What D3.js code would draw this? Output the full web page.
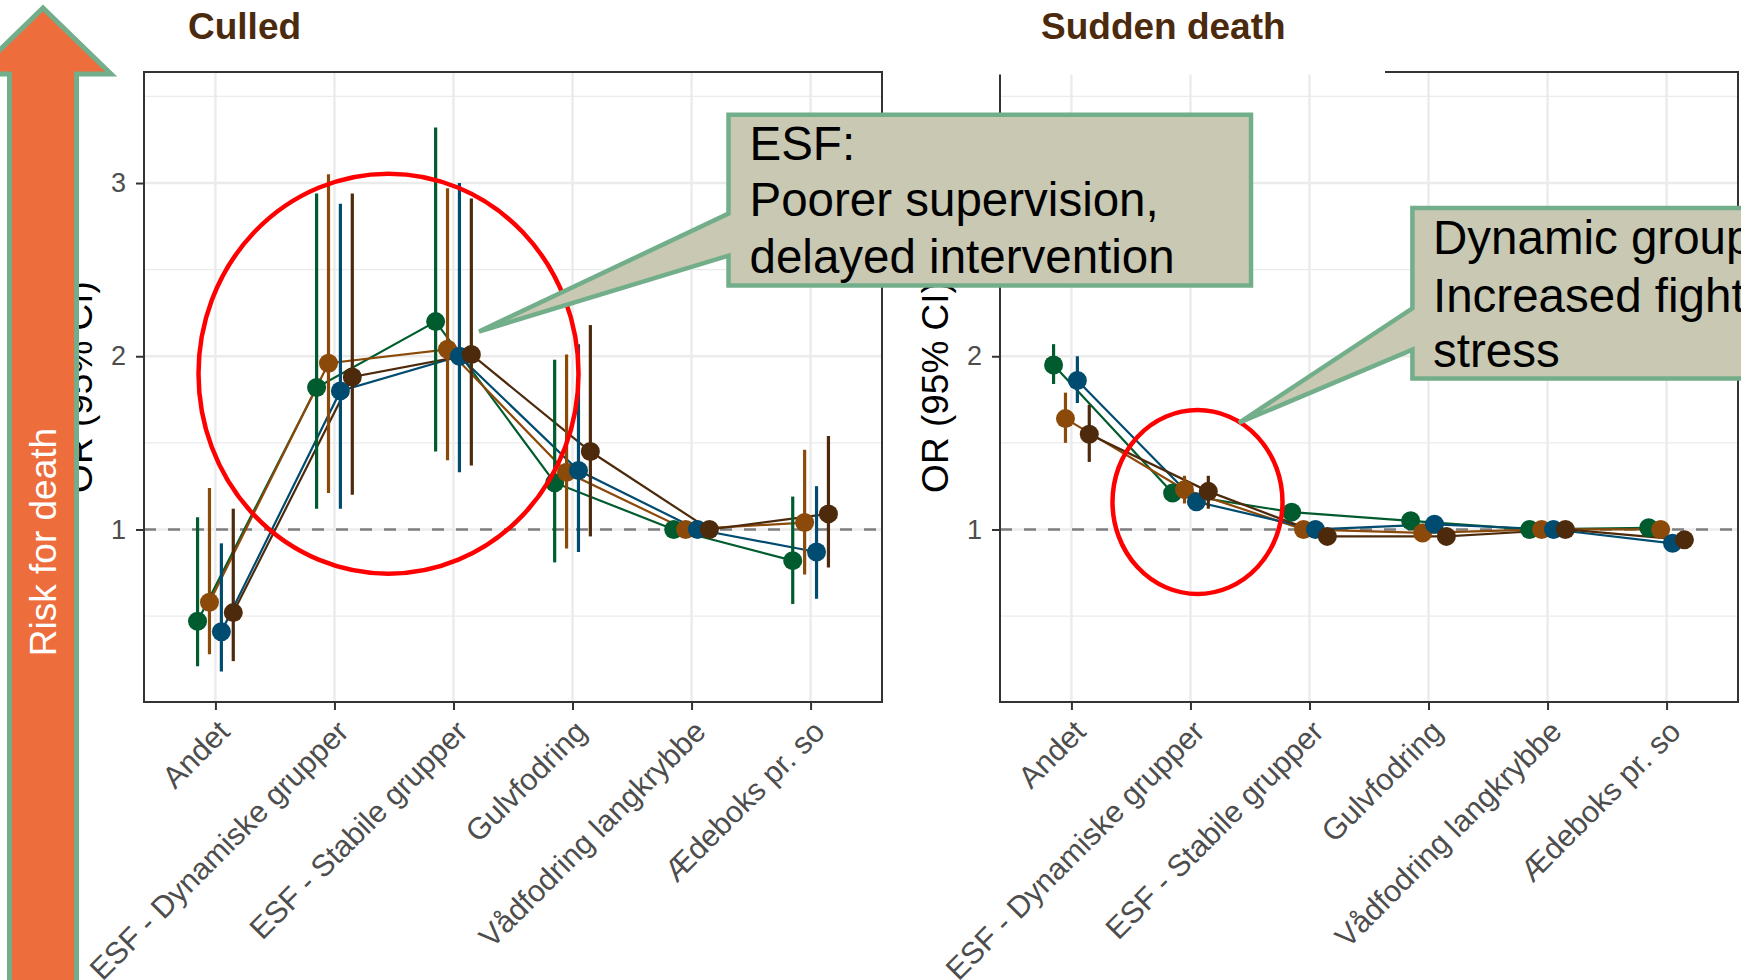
<!DOCTYPE html>
<html>
<head>
<meta charset="utf-8">
<script src="https://cdn.jsdelivr.net/npm/d3@7"></script>
<style>
  html, body { margin: 0; padding: 0; background: #ffffff; }
  svg { display: block; font-family: "Liberation Sans", Arial, Helvetica, sans-serif; }
</style>
</head>
<body>
<svg id="chart" width="1741" height="980"></svg>
<script>
// ---- data ---------------------------------------------------------------
const categories = [
  "Andet",
  "ESF - Dynamiske grupper",
  "ESF - Stabile grupper",
  "Gulvfodring",
  "Vådfodring langkrybbe",
  "Ædeboks pr. so"
];
const seriesNames  = ["Serie 1", "Serie 2", "Serie 3", "Serie 4"];
const seriesColors = ["#005c2e", "#8c4a0a", "#004b70", "#4d2a0c"];
const yTicks = [1, 2, 3];
const yMinorGrid = [0.5, 1.5, 2.5, 3.5];

// Culled: odds ratio with lower / upper 95% limits, one row per series
const culledOR = [
  [0.47, 1.82, 2.20, 1.27, 1.00, 0.82],
  [0.58, 1.96, 2.04, 1.33, 1.00, 1.04],
  [0.41, 1.80, 2.00, 1.34, 1.00, 0.87],
  [0.52, 1.88, 2.01, 1.45, 1.00, 1.09]
];
const culledLow = [
  [0.21, 1.12, 1.45, 0.81, 1.00, 0.57],
  [0.28, 1.21, 1.40, 0.89, 1.00, 0.74],
  [0.18, 1.12, 1.33, 0.87, 1.00, 0.60],
  [0.24, 1.20, 1.37, 0.96, 1.00, 0.78]
];
const culledHigh = [
  [1.07, 2.94, 3.32, 1.98, 1.00, 1.19],
  [1.24, 3.05, 2.97, 2.01, 1.00, 1.46],
  [0.92, 2.88, 3.00, 2.07, 1.00, 1.25],
  [1.12, 2.94, 2.91, 2.18, 1.00, 1.54]
];

// Sudden death: odds ratio with lower / upper 95% limits, one row per series
const suddenOR = [
  [1.95, 1.21, 1.10, 1.05, 1.00, 1.01],
  [1.64, 1.23, 1.00, 0.98, 1.00, 1.00],
  [1.86, 1.16, 1.00, 1.03, 1.00, 0.92],
  [1.55, 1.22, 0.96, 0.96, 1.00, 0.94]
];
const suddenLow = [
  [1.84, 1.17, 1.07, 1.02, 1.00, 0.98],
  [1.50, 1.15, 0.97, 0.95, 1.00, 0.97],
  [1.73, 1.12, 0.97, 1.00, 1.00, 0.89],
  [1.39, 1.12, 0.93, 0.93, 1.00, 0.91]
];
const suddenHigh = [
  [2.07, 1.26, 1.13, 1.08, 1.00, 1.04],
  [1.79, 1.31, 1.03, 1.01, 1.00, 1.03],
  [2.00, 1.20, 1.03, 1.06, 1.00, 0.95],
  [1.72, 1.31, 0.99, 0.99, 1.00, 0.97]
];

// ---- layout -------------------------------------------------------------
const svg = d3.select("#chart");
const panelTop = 72, panelBottom = 702;
const panels = [
  { title: "Culled",       titleX: 188,  x0: 144,  x1: 882,  or: culledOR, lo: culledLow, hi: culledHigh,
    tickLabels: [1, 2, 3] },
  // the "3" label of the second panel sits under the ESF callout, so it is left out
  { title: "Sudden death", titleX: 1041, x0: 1000, x1: 1738, or: suddenOR, lo: suddenLow, hi: suddenHigh,
    tickLabels: [1, 2] }
];

const y = d3.scaleLinear().domain([0.004, 3.641]).range([panelBottom, panelTop]);

const gridColor = "#ebebeb";
const axisGrey = "#4d4d4d";

panels.forEach(p => {
  const x = d3.scalePoint().domain(categories).range([p.x0, p.x1]).padding(0.6);
  const step = x.step();
  const dodge = i => (i - (seriesNames.length - 1) / 2) * 0.1 * step;

  const g = svg.append("g");

  // grid
  g.selectAll("line.minor").data(yMinorGrid).join("line")
    .attr("x1", p.x0).attr("x2", p.x1)
    .attr("y1", d => y(d)).attr("y2", d => y(d))
    .attr("stroke", gridColor).attr("stroke-width", 1.3);
  g.selectAll("line.major").data(yTicks).join("line")
    .attr("x1", p.x0).attr("x2", p.x1)
    .attr("y1", d => y(d)).attr("y2", d => y(d))
    .attr("stroke", gridColor).attr("stroke-width", 2.4);
  g.selectAll("line.vgrid").data(categories).join("line")
    .attr("x1", d => x(d)).attr("x2", d => x(d))
    .attr("y1", panelTop).attr("y2", panelBottom)
    .attr("stroke", gridColor).attr("stroke-width", 2.4);

  // reference line at OR = 1
  g.append("line")
    .attr("x1", p.x0).attr("x2", p.x1)
    .attr("y1", y(1)).attr("y2", y(1))
    .attr("stroke", "#7f7f7f").attr("stroke-width", 2.6)
    .attr("stroke-dasharray", "12,12");

  // connecting lines per series
  const line = d3.line().x(d => d.x).y(d => y(d.v));
  seriesNames.forEach((s, i) => {
    const pts = categories.map((c, j) => ({ x: x(c) + dodge(i), v: p.or[i][j] }));
    g.append("path").datum(pts)
      .attr("d", line)
      .attr("fill", "none")
      .attr("stroke", seriesColors[i])
      .attr("stroke-width", 2.2);
  });

  // confidence intervals and point estimates
  seriesNames.forEach((s, i) => {
    const rows = categories.map((c, j) => ({
      x: x(c) + dodge(i), v: p.or[i][j], lo: p.lo[i][j], hi: p.hi[i][j]
    }));
    const sg = g.append("g");
    sg.selectAll("line").data(rows).join("line")
      .attr("x1", d => d.x).attr("x2", d => d.x)
      .attr("y1", d => y(d.lo)).attr("y2", d => y(d.hi))
      .attr("stroke", seriesColors[i]).attr("stroke-width", 3.2);
    sg.selectAll("circle").data(rows).join("circle")
      .attr("cx", d => d.x).attr("cy", d => y(d.v))
      .attr("r", 9.5)
      .attr("fill", seriesColors[i]);
  });

  // panel border
  g.append("rect")
    .attr("x", p.x0).attr("y", panelTop)
    .attr("width", p.x1 - p.x0).attr("height", panelBottom - panelTop)
    .attr("fill", "none").attr("stroke", "#333333").attr("stroke-width", 2);

  // y axis
  const ya = g.append("g")
    .attr("transform", `translate(${p.x0},0)`)
    .call(d3.axisLeft(y).tickValues(yTicks).tickSize(8).tickPadding(10)
      .tickFormat(d => p.tickLabels.includes(d) ? d3.format("d")(d) : ""));
  ya.select(".domain").remove();
  ya.selectAll(".tick line").attr("stroke", "#333333").attr("stroke-width", 2);
  ya.selectAll(".tick text")
    .attr("fill", axisGrey).attr("font-size", 27)
    .attr("font-family", "Liberation Sans, Arial, sans-serif");

  // x axis
  const xa = g.append("g")
    .attr("transform", `translate(0,${panelBottom})`)
    .call(d3.axisBottom(x).tickSize(8).tickPadding(0));
  xa.select(".domain").remove();
  xa.selectAll(".tick line").attr("stroke", "#333333").attr("stroke-width", 2);
  xa.selectAll(".tick text")
    .attr("fill", axisGrey).attr("font-size", 30.5)
    .attr("font-family", "Liberation Sans, Arial, sans-serif")
    .attr("text-anchor", "end")
    .attr("x", 0).attr("y", 0).attr("dy", "0.72em")
    .attr("transform", "translate(0,16) rotate(-45)");

  // y axis title
  const cy = (panelTop + panelBottom) / 2;
  g.append("text")
    .attr("transform", `translate(${p.x0 - 65},${cy}) rotate(-90)`)
    .attr("text-anchor", "middle")
    .attr("dy", "0.35em")
    .attr("font-size", 37)
    .attr("fill", "#000000")
    .text("OR (95% CI)");
});

// panel titles (the right one sits in a white text box)
svg.append("rect")
  .attr("x", 996).attr("y", 0).attr("width", 389).attr("height", 74.5)
  .attr("fill", "#ffffff");
panels.forEach(p => {
  svg.append("text")
    .attr("x", p.titleX).attr("y", 38.5)
    .attr("font-size", 37).attr("font-weight", "bold")
    .attr("fill", "#4b2a0d")
    .text(p.title);
});

// highlight rings
const rings = [
  { cx: 388.5, cy: 373.7, rx: 190, ry: 200 },
  { cx: 1197.5, cy: 502, rx: 85, ry: 92 }
];
svg.selectAll("ellipse.ring").data(rings).join("ellipse")
  .attr("cx", d => d.cx).attr("cy", d => d.cy)
  .attr("rx", d => d.rx).attr("ry", d => d.ry)
  .attr("fill", "none").attr("stroke", "#ff0000").attr("stroke-width", 4.5);

// callouts
function calloutPath(c) {
  return `M${c.x0},${c.y0} H${c.x1} V${c.y1} H${c.x0} V${c.a2} L${c.tx},${c.ty} L${c.x0},${c.a1} Z`;
}
const callouts = [
  { x0: 728.5, y0: 114.7, x1: 1251, y1: 285.5, a1: 213.6, a2: 255.7, tx: 479, ty: 331.5,
    tX: 749.5, lines: ["ESF:", "Poorer supervision,", "delayed intervention"], base: [159.7, 215.7, 272.5] },
  { x0: 1412.4, y0: 208, x1: 1775, y1: 378.6, a1: 308.3, a2: 349.6, tx: 1239, ty: 422.8,
    tX: 1433, lines: ["Dynamic groups:", "Increased fighting,", "stress"], base: [254.4, 311.7, 367] }
];
callouts.forEach(c => {
  const cg = svg.append("g");
  cg.append("path")
    .attr("d", calloutPath(c))
    .attr("fill", "#c8c8b3")
    .attr("stroke", "#73ae8b").attr("stroke-width", 4.5)
    .attr("stroke-linejoin", "miter");
  cg.selectAll("text").data(c.lines).join("text")
    .attr("x", c.tX).attr("y", (d, i) => c.base[i])
    .attr("font-size", 47.5).attr("fill", "#000000")
    .text(d => d);
});

// risk arrow on the left
const arrow = svg.append("g");
arrow.append("path")
  .attr("d", "M43,8 L111,74 L76.5,74 L76.5,1000 L9.5,1000 L9.5,74 L-25,74 Z")
  .attr("fill", "#ed6d3d")
  .attr("stroke", "#73ae8b").attr("stroke-width", 5)
  .attr("stroke-linejoin", "miter");
arrow.append("text")
  .attr("transform", "translate(43,542) rotate(-90)")
  .attr("text-anchor", "middle")
  .attr("dy", "0.36em")
  .attr("font-size", 37)
  .attr("fill", "#ffffff")
  .text("Risk for death");
</script>
</body>
</html>
